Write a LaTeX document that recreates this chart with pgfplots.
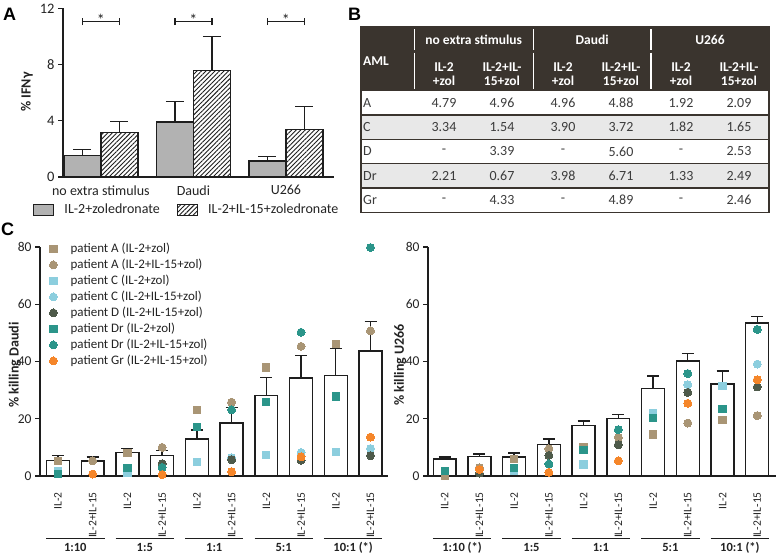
\documentclass[border=0pt]{standalone}
\usepackage{fontspec}
\setmainfont{Carlito}
\newfontfamily\panelfont{Liberation Sans}
\usepackage{pgfplots}
\pgfplotsset{compat=1.18}
\usetikzlibrary{patterns.meta}

\definecolor{axc}{RGB}{30,30,30}
\definecolor{txt}{RGB}{35,35,35}
\definecolor{tabtxt}{RGB}{60,60,60}
\definecolor{barg}{RGB}{178,178,178}
\definecolor{hdr}{RGB}{58,52,46}
\definecolor{rowg}{RGB}{232,232,232}
\definecolor{pA}{RGB}{169,149,117}
\definecolor{pC}{RGB}{140,206,222}
\definecolor{pD}{RGB}{78,90,74}
\definecolor{pDr}{RGB}{43,149,138}
\definecolor{pGr}{RGB}{245,134,42}

\newcommand\fs[2]{\fontsize{#1bp}{#2bp}\selectfont}

\tikzset{grp/.style={font=\bfseries\fs{12.5}{14}, text=txt, anchor=base, inner sep=0pt}}

\pgfplotsset{
  /pgf/number format/assume math mode=true,
  panel/.style={
    scale only axis, anchor=south west, clip=false, enlargelimits=false,
    axis lines=left, axis line style={-, line width=1.3pt, draw=axc},
    tick align=outside, major tick length=5bp,
    ytick style={line width=1.3pt, draw=axc},
    xtick style={draw=none},
    every tick label/.append style={text=txt},
    label style={text=txt},
  },
  legA/.style={legend image code/.code={\draw[##1] (0bp,-5.5bp) rectangle (20bp,5.5bp); \path (30bp,0bp);}},
  barA/.style={ybar, bar width=0.4, bar shift=0pt, draw=axc, line width=1.3pt,
    error bars/y dir=plus, error bars/y explicit,
    error bars/error bar style={/tikz/line width=1.3pt, /tikz/draw=axc},
    error bars/error mark options={rotate=90, line width=1.3pt, draw=axc, mark size=9bp}},
  barC/.style={ybar, bar width=0.66, bar shift=0pt, fill=white, draw=axc, line width=1.4pt, forget plot,
    error bars/y dir=plus, error bars/y explicit,
    error bars/error bar style={/tikz/line width=1.4pt, /tikz/draw=axc},
    error bars/error mark options={rotate=90, line width=1.4pt, draw=axc, mark size=6bp}},
  sq/.style={only marks, mark=square*, mark size=3.6bp, mark options={fill=#1, draw=#1, line width=0pt}},
  ci/.style={only marks, mark=*, mark size=4bp, mark options={fill=#1, draw=#1, line width=0pt}},
  panelC/.style={panel, width=348bp, height=229bp,
    ymin=0, ymax=80, ytick={0,20,40,60,80},
    xtick={0,...,9},
    xticklabels={IL-2,IL-2+IL-15,IL-2,IL-2+IL-15,IL-2,IL-2+IL-15,IL-2,IL-2+IL-15,IL-2,IL-2+IL-15},
    yticklabel style={font=\fs{13.5}{15}},
    xticklabel style={font=\fs{11.5}{13}, rotate=90, anchor=east, inner sep=0pt},
    xticklabel shift=11bp,
    ylabel style={font=\bfseries\fs{14}{16}, anchor=center},
  },
}

\begin{document}
\begin{tikzpicture}
\path[use as bounding box] (0,0) rectangle (778bp,-553bp);

% ---------- panel letters and table B ----------
\begin{scope}[x=1bp, y=-1bp]
\node[anchor=base west, inner sep=0pt, font=\panelfont\bfseries\fs{18}{20}] at (3,20) {A};
\node[anchor=base west, inner sep=0pt, font=\panelfont\bfseries\fs{18}{20}] at (348,20) {B};
\node[anchor=base west, inner sep=0pt, font=\panelfont\bfseries\fs{18}{20}] at (1,235) {C};

\fill[hdr] (361,27) rectangle (769,90.7);
\fill[rowg] (361,115) rectangle (769,139.3);
\fill[rowg] (361,163.6) rectangle (769,187.9);
\foreach \yy in {115,139.3,163.6,187.9}
  \draw[hdr, line width=1.2bp] (361,\yy) -- (769,\yy);
\draw[hdr, line width=1.2bp] (361,27) rectangle (769,212.2);
\foreach \xx in {414.3,533.3,651} {
  \draw[white, line width=1.5bp] (\xx,29) -- (\xx,50);
  \draw[white, line width=1.5bp] (\xx,52.5) -- (\xx,89);
}
\begin{scope}[every node/.style={text=white, font=\bfseries\fs{13.5}{14.3}, inner sep=0pt, align=center}]
\node[anchor=west] at (363,61) {AML};
\node at (473.7,39.5) {no extra stimulus};
\node at (592.2,39.5) {Daudi};
\node at (710,39.5) {U266};
\foreach \cx in {444,563,681} \node at (\cx,74) {IL-2\\+zol};
\foreach \cx in {502,621,739} \node at (\cx,74) {IL-2+IL-\\15+zol};
\end{scope}
\begin{scope}[every node/.style={text=tabtxt, font=\fs{14}{16}, inner sep=0pt}]
\foreach \lab/\ry/\a/\b/\c/\d/\e/\f in {
  A/102.9/4.79/4.96/4.96/4.88/1.92/2.09,
  C/127.2/3.34/1.54/3.90/3.72/1.82/1.65,
  D/151.5/-/3.39/-/5.60/-/2.53,
  Dr/175.8/2.21/0.67/3.98/6.71/1.33/2.49,
  Gr/200.1/-/4.33/-/4.89/-/2.46} {
  \node[anchor=west] at (363,\ry) {\lab};
  \node at (444,\ry) {\a};
  \node at (502,\ry) {\b};
  \node at (563,\ry) {\c};
  \node at (621,\ry) {\d};
  \node at (681,\ry) {\e};
  \node at (739,\ry) {\f};
}
\end{scope}
\end{scope}

% ---------- panel A ----------
\begin{axis}[panel, at={(63bp,-177bp)}, width=271bp, height=168.7bp,
  xmin=-0.41, xmax=2.52, ymin=0, ymax=12, ytick={0,4,8,12},
  xtick={0,1,2}, xticklabels={no extra stimulus,Daudi,U266},
  yticklabel style={font=\fs{14.5}{16}},
  xticklabel style={font=\fs{14}{16}},
  ylabel={\% IFNγ},
  ylabel style={font=\bfseries\fs{14}{16}, at={(axis description cs:-0.133,0.504)}, anchor=center},
  legend columns=2, legend cell align=left,
  legend style={at={(axis description cs:-0.1107,-0.1956)}, anchor=west,
    draw=none, fill=none, inner sep=0pt, font=\fs{14}{16}, text=txt,
    nodes={inner sep=0pt, text height=10bp, text depth=3bp},
    /tikz/every even column/.append style={column sep=17bp}},
]
\addplot[barA, fill=barg, legA] table[x=x, y=y, y error=e] {
x    y    e
-0.2 1.52 0.45
0.8  3.92 1.45
1.8  1.14 0.31
};
\addlegendentry{IL-2+zoledronate}
\addplot[barA, fill=white, pattern={Lines[angle=45, distance=3.2bp, line width=0.9bp]}, pattern color=axc, legA]
  table[x=x, y=y, y error=e] {
x   y    e
0.2 3.16 0.81
1.2 7.60 2.38
2.2 3.40 1.59
};
\addlegendentry{IL-2+IL-15+zoledronate}
\draw[axc, line width=1.3pt] (axis cs:-0.2,11.05) -- (axis cs:0.2,11.05);
\draw[axc, line width=1.3pt] (axis cs:-0.2,10.8) -- (axis cs:-0.2,11.3);
\draw[axc, line width=1.3pt] (axis cs:0.2,10.8) -- (axis cs:0.2,11.3);
\draw[axc, line width=1.3pt] (axis cs:0.8,11.05) -- (axis cs:1.2,11.05);
\draw[axc, line width=1.3pt] (axis cs:0.8,10.8) -- (axis cs:0.8,11.3);
\draw[axc, line width=1.3pt] (axis cs:1.2,10.8) -- (axis cs:1.2,11.3);
\draw[axc, line width=1.3pt] (axis cs:1.8,11.05) -- (axis cs:2.2,11.05);
\draw[axc, line width=1.3pt] (axis cs:1.8,10.8) -- (axis cs:1.8,11.3);
\draw[axc, line width=1.3pt] (axis cs:2.2,10.8) -- (axis cs:2.2,11.3);
\node[anchor=base, inner sep=0pt, font=\fs{16}{18}, text=txt] at (axis cs:0,10.8) {*};
\node[anchor=base, inner sep=0pt, font=\fs{16}{18}, text=txt] at (axis cs:1,10.8) {*};
\node[anchor=base, inner sep=0pt, font=\fs{16}{18}, text=txt] at (axis cs:2,10.8) {*};
\end{axis}

% ---------- panel C, Daudi ----------
\begin{axis}[panelC, at={(40bp,-476bp)}, xmin=-0.518, xmax=9.504,
  ylabel={\% killing Daudi},
  ylabel style={at={(axis description cs:-0.072,0.485)}},
  legend cell align=left,
  legend style={at={(axis description cs:0.0259,1.0197)}, anchor=north west,
    draw=none, fill=none, inner sep=0pt, font=\fs{13}{15}, text=txt,
    nodes={inner sep=0pt, text height=9.5bp, text depth=3bp}, row sep=3.5bp},
  legend image code/.code={\path (-4bp,0bp) (17bp,0bp); \draw[#1] plot coordinates {(0bp,0bp)};},
]
\addplot[barC] table[x=x, y=y, y error=e] {
x y    e
0 5.4  1.85
1 5.25 1.4
2 8.3  1.4
3 7.1  1.85
4 12.9 3.2
5 18.5 5.4
6 28.1 6.3
7 34.3 7.9
8 35.2 9.3
9 43.7 10.3
};
\addplot[sq=pA] coordinates {(0,5.3) (2,7.9) (4,23.1) (6,37.9) (8,46.2)};
\addlegendentry{patient A (IL-2+zol)}
\addplot[ci=pA] coordinates {(1,5.3) (3,10.0) (5,25.8) (7,45.3) (9,50.7)};
\addlegendentry{patient A (IL-2+IL-15+zol)}
\addplot[sq=pC] coordinates {(0,1.6) (2,1.2) (4,4.8) (6,7.4) (8,8.3)};
\addlegendentry{patient C (IL-2+zol)}
\addplot[ci=pC] coordinates {(5,6.4) (7,8.2) (9,9.6)};
\addlegendentry{patient C (IL-2+IL-15+zol)}
\addplot[ci=pD] coordinates {(3,4.3) (5,5.7) (7,5.5) (9,7.1)};
\addlegendentry{patient D (IL-2+IL-15+zol)}
\addplot[sq=pDr] coordinates {(0,0.6) (2,2.9) (4,17.2) (6,25.9) (8,27.8)};
\addlegendentry{patient Dr (IL-2+zol)}
\addplot[ci=pDr] coordinates {(3,3.0) (5,23.1) (7,50.2) (9,79.8)};
\addlegendentry{patient Dr (IL-2+IL-15+zol)}
\addplot[ci=pGr] coordinates {(1,0.7) (3,0.5) (5,1.5) (7,6.7) (9,13.6)};
\addlegendentry{patient Gr (IL-2+IL-15+zol)}
\draw[axc, line width=1.4pt] (axis cs:-0.34,-21.76) -- (axis cs:1.34,-21.76);
\draw[axc, line width=1.4pt] (axis cs:1.66,-21.76) -- (axis cs:3.34,-21.76);
\draw[axc, line width=1.4pt] (axis cs:3.66,-21.76) -- (axis cs:5.34,-21.76);
\draw[axc, line width=1.4pt] (axis cs:5.66,-21.76) -- (axis cs:7.34,-21.76);
\draw[axc, line width=1.4pt] (axis cs:7.66,-21.76) -- (axis cs:9.34,-21.76);
\node[grp] at (axis cs:0.5,-26.3) {1:10};
\node[grp] at (axis cs:2.5,-26.3) {1:5};
\node[grp] at (axis cs:4.5,-26.3) {1:1};
\node[grp] at (axis cs:6.5,-26.3) {5:1};
\node[grp] at (axis cs:8.5,-26.3) {10:1 (*)};
\end{axis}

% ---------- panel C, U266 ----------
\begin{axis}[panelC, at={(428bp,-476bp)}, xmin=-0.48, xmax=9.54,
  ylabel={\% killing U266},
  ylabel style={at={(axis description cs:-0.08,0.485)}},
]
\addplot[barC] table[x=x, y=y, y error=e] {
x y    e
0 5.9  0.7
1 6.9  0.8
2 6.7  1.3
3 11.1 1.8
4 17.7 1.5
5 20.0 1.5
6 30.6 4.4
7 40.2 2.6
8 32.1 4.6
9 53.5 2.2
};
\addplot[sq=pA] coordinates {(0,0.1) (2,6.0) (4,10.2) (6,14.5) (8,19.7)};
\addplot[ci=pA] coordinates {(1,2.9) (3,9.5) (5,13.5) (7,18.5) (9,21.1)};
\addplot[sq=pC] coordinates {(2,1.8) (4,4.0) (6,21.9) (8,31.5)};
\addplot[ci=pC] coordinates {(7,31.9) (9,39.1)};
\addplot[ci=pD] coordinates {(1,1.0) (3,7.2) (5,10.9) (7,29.2) (9,31.1)};
\addplot[sq=pDr] coordinates {(0,1.8) (2,2.7) (4,9.0) (6,20.4) (8,23.4)};
\addplot[ci=pDr] coordinates {(3,4.2) (5,16.2) (7,35.8) (9,51.2)};
\addplot[ci=pGr] coordinates {(1,2.3) (3,1.3) (5,5.3) (7,25.4) (9,33.6)};
\draw[axc, line width=1.4pt] (axis cs:-0.34,-21.76) -- (axis cs:1.34,-21.76);
\draw[axc, line width=1.4pt] (axis cs:1.66,-21.76) -- (axis cs:3.34,-21.76);
\draw[axc, line width=1.4pt] (axis cs:3.66,-21.76) -- (axis cs:5.34,-21.76);
\draw[axc, line width=1.4pt] (axis cs:5.66,-21.76) -- (axis cs:7.34,-21.76);
\draw[axc, line width=1.4pt] (axis cs:7.66,-21.76) -- (axis cs:9.34,-21.76);
\node[grp] at (axis cs:0.5,-26.3) {1:10 (*)};
\node[grp] at (axis cs:2.5,-26.3) {1:5};
\node[grp] at (axis cs:4.5,-26.3) {1:1};
\node[grp] at (axis cs:6.5,-26.3) {5:1};
\node[grp] at (axis cs:8.5,-26.3) {10:1 (*)};
\end{axis}
\end{tikzpicture}
\end{document}
